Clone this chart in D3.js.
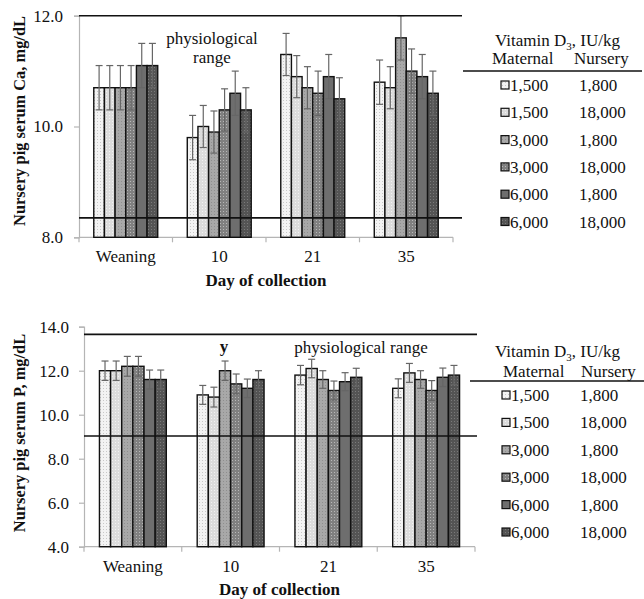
<!DOCTYPE html>
<html>
<head>
<meta charset="utf-8">
<script src="https://cdn.jsdelivr.net/npm/d3@7"></script>
<style>
  html, body { margin: 0; padding: 0; background: #fff; }
  svg { display: block; }
  text { font-family: "Liberation Serif", "Times New Roman", serif; fill: #111; }
</style>
</head>
<body>
<svg id="chart" width="644" height="599"></svg>
<script>
// ---------- DATA ----------
const categories = ["Weaning", "10", "21", "35"];
const maternal = ["1,500", "1,500", "3,000", "3,000", "6,000", "6,000"];
const nursery  = ["1,800", "18,000", "1,800", "18,000", "1,800", "18,000"];

// Serum Ca (mg/dL): one array per treatment, values per day
const caMeans = [
  [10.7, 9.8, 11.3, 10.8],
  [10.7, 10.0, 10.9, 10.7],
  [10.7, 9.9, 10.7, 11.6],
  [10.7, 10.3, 10.6, 11.0],
  [11.1, 10.6, 10.9, 10.9],
  [11.1, 10.3, 10.5, 10.6]
];
const caSE = [
  [0.40, 0.40, 0.38, 0.40],
  [0.40, 0.38, 0.38, 0.38],
  [0.40, 0.38, 0.38, 0.40],
  [0.40, 0.38, 0.40, 0.40],
  [0.40, 0.40, 0.40, 0.40],
  [0.40, 0.40, 0.38, 0.40]
];
const caRange = [8.35, 12.0];
const caTicks = [8.0, 10.0, 12.0];

// Serum P (mg/dL)
const pMeans = [
  [12.0, 10.9, 11.8, 11.2],
  [12.0, 10.8, 12.1, 11.9],
  [12.2, 12.0, 11.6, 11.6],
  [12.2, 11.4, 11.1, 11.1],
  [11.6, 11.2, 11.5, 11.7],
  [11.6, 11.6, 11.7, 11.8]
];
const pSE = [
  [0.44, 0.43, 0.44, 0.43],
  [0.44, 0.45, 0.42, 0.43],
  [0.45, 0.44, 0.40, 0.40],
  [0.45, 0.45, 0.43, 0.45],
  [0.43, 0.42, 0.41, 0.42],
  [0.43, 0.40, 0.41, 0.44]
];
const pRange = [9.03, 13.65];
const pTicks = [4.0, 6.0, 8.0, 10.0, 12.0, 14.0];

// ---------- STYLE ----------
const patternStyles = [
  { base: "#f3f3f3", dot: "#c8c8c8" },
  { base: "#dcdcdc", dot: "#f2f2f2" },
  { base: "#a8a8a8", dot: "#8e8e8e" },
  { base: "#808080", dot: "#b8b8b8" },
  { base: "#6e6e6e", dot: "#6e6e6e" },
  { base: "#545454", dot: "#7a7a7a" }
];
const FS = "17px";

const svg = d3.select("#chart");
const defs = svg.append("defs");
patternStyles.forEach((p, i) => {
  const pat = defs.append("pattern")
    .attr("id", "pat" + i).attr("patternUnits", "userSpaceOnUse")
    .attr("width", 3).attr("height", 3);
  pat.append("rect").attr("width", 3).attr("height", 3).attr("fill", p.base);
  pat.append("rect").attr("x", 1).attr("y", 1).attr("width", 1).attr("height", 1).attr("fill", p.dot);
});

function drawPanel(cfg) {
  const g = svg.append("g");
  const x = d3.scaleBand().domain(categories).range([cfg.x0, cfg.x1])
    .paddingInner(0.316).paddingOuter(0.158);
  const xs = d3.scaleBand().domain(d3.range(maternal.length)).range([0, x.bandwidth()]);
  const y = d3.scaleLinear().domain(cfg.domain).range([cfg.yBottom, cfg.yTop]);

  // axes
  const yAxis = g.append("g").attr("transform", `translate(${cfg.x0},0)`)
    .call(d3.axisLeft(y).tickValues(cfg.ticks).tickFormat(d3.format(".1f")).tickSizeOuter(0).tickSize(5).tickPadding(cfg.tickPad));
  yAxis.select(".domain").attr("stroke", "#b5b5b5").attr("stroke-width", 1.2);
  yAxis.selectAll(".tick line").attr("stroke", "#b5b5b5").attr("stroke-width", 1.2);
  yAxis.selectAll(".tick text").style("font-family", '"Liberation Serif", serif').style("font-size", FS).attr("fill", "#222");

  const xAxis = g.append("g").attr("transform", `translate(0,${cfg.yBottom})`);
  xAxis.append("line").attr("x1", cfg.x0).attr("x2", cfg.x1).attr("y1", 0).attr("y2", 0)
    .attr("stroke", "#b5b5b5").attr("stroke-width", 1.2);
  const step = x.step();
  xAxis.selectAll("line.tk").data(d3.range(categories.length + 1)).join("line").attr("class", "tk")
    .attr("x1", i => cfg.x0 + i * step).attr("x2", i => cfg.x0 + i * step)
    .attr("y1", 0).attr("y2", 5).attr("stroke", "#b5b5b5").attr("stroke-width", 1.2);
  xAxis.selectAll("text.cat").data(categories).join("text").attr("class", "cat")
    .attr("x", d => x(d) + x.bandwidth() / 2).attr("y", cfg.catDy)
    .attr("text-anchor", "middle").style("font-size", FS).text(d => d);

  // bars
  maternal.forEach((m, s) => {
    const gs = g.append("g");
    gs.selectAll("rect").data(categories).join("rect")
      .attr("x", (c) => x(c) + xs(s))
      .attr("width", xs.bandwidth())
      .attr("y", (c, i) => y(cfg.means[s][i]))
      .attr("height", (c, i) => y(cfg.domain[0]) - y(cfg.means[s][i]))
      .attr("fill", `url(#pat${s})`)
      .attr("stroke", "#111").attr("stroke-width", 1.4);
  });
  // error bars
  maternal.forEach((m, s) => {
    categories.forEach((c, i) => {
      const cx = x(c) + xs(s) + xs.bandwidth() / 2;
      const hi = y(cfg.means[s][i] + cfg.se[s][i]);
      const lo = y(cfg.means[s][i] - cfg.se[s][i]);
      const eg = g.append("g").attr("stroke", "#666").attr("stroke-width", 1.2);
      eg.append("line").attr("x1", cx).attr("x2", cx).attr("y1", hi).attr("y2", lo);
      eg.append("line").attr("x1", cx - 3.5).attr("x2", cx + 3.5).attr("y1", hi).attr("y2", hi);
      eg.append("line").attr("x1", cx - 3.5).attr("x2", cx + 3.5).attr("y1", lo).attr("y2", lo);
    });
  });

  // physiological range lines
  g.selectAll("line.rng").data(cfg.range).join("line").attr("class", "rng")
    .attr("x1", cfg.x0).attr("x2", cfg.x1 + cfg.lineExt)
    .attr("y1", d => y(d)).attr("y2", d => y(d))
    .attr("stroke", "#111").attr("stroke-width", 1.6);

  // axis titles
  g.append("text").attr("transform", `translate(${cfg.yTitleX},${cfg.yTitleY}) rotate(-90)`)
    .attr("text-anchor", "middle").style("font-size", "16.4px").style("font-weight", "bold")
    .text(cfg.yTitle);
  g.append("text").attr("x", (cfg.x0 + cfg.x1) / 2).attr("y", cfg.xTitleY)
    .attr("text-anchor", "middle").style("font-size", FS).style("font-weight", "bold")
    .text("Day of collection");

  // annotations
  cfg.notes.forEach(n => {
    g.append("text").attr("x", n.x).attr("y", n.y).attr("text-anchor", "middle")
      .style("font-size", FS).style("font-weight", n.bold ? "bold" : "normal").text(n.t);
  });

  // legend
  const L = cfg.legend;
  const hdr = g.append("text").attr("x", L.hx).attr("y", L.hy).style("font-size", FS);
  hdr.append("tspan").text("Vitamin D");
  hdr.append("tspan").attr("dy", 4).style("font-size", "11px").text("3");
  hdr.append("tspan").attr("dy", -4).text(", IU/kg");
  g.append("text").attr("x", L.mx).attr("y", L.sy).style("font-size", FS).text("Maternal");
  g.append("text").attr("x", L.nx).attr("y", L.sy).style("font-size", FS).text("Nursery");
  g.append("line").attr("x1", L.lx0).attr("x2", L.lx1).attr("y1", L.ly).attr("y2", L.ly)
    .attr("stroke", "#111").attr("stroke-width", 1.6);
  maternal.forEach((m, s) => {
    const ry = L.ry0 + s * L.rstep;
    g.append("rect").attr("x", L.swx).attr("y", ry - 10).attr("width", 8).attr("height", 8)
      .attr("fill", `url(#pat${s})`).attr("stroke", "#111").attr("stroke-width", 1.2);
    g.append("text").attr("x", L.tx).attr("y", ry).style("font-size", FS).text(m);
    g.append("text").attr("x", L.nx2).attr("y", ry).style("font-size", FS).text(nursery[s]);
  });
}

drawPanel({
  x0: 79, x1: 453, yBottom: 237.3, yTop: 15.7, domain: [8, 12], ticks: caTicks, tickPad: 11,
  means: caMeans, se: caSE, range: caRange, lineExt: 9,
  catDy: 25, xTitleY: 286, yTitle: "Nursery pig serum Ca, mg/dL", yTitleX: 25, yTitleY: 121,
  notes: [{ x: 212, y: 44, t: "physiological" }, { x: 212, y: 63, t: "range" }],
  legend: { hx: 495, hy: 46, mx: 492, nx: 574, sy: 64, lx0: 463, lx1: 642, ly: 71,
            ry0: 91, rstep: 27.3, swx: 501, tx: 510, nx2: 579 }
});

drawPanel({
  x0: 84, x1: 475, yBottom: 546.7, yTop: 326.7, domain: [4, 14], ticks: pTicks, tickPad: 10,
  means: pMeans, se: pSE, range: pRange, lineExt: 2,
  catDy: 25, xTitleY: 595, yTitle: "Nursery pig serum P, mg/dL", yTitleX: 25, yTitleY: 433,
  notes: [{ x: 224, y: 352, t: "y", bold: true }, { x: 361, y: 353, t: "physiological range" }],
  legend: { hx: 495, hy: 357, mx: 503, nx: 581, sy: 377, lx0: 470, lx1: 644, ly: 381,
            ry0: 401, rstep: 27.4, swx: 502, tx: 511, nx2: 580 }
});
</script>
</body>
</html>
